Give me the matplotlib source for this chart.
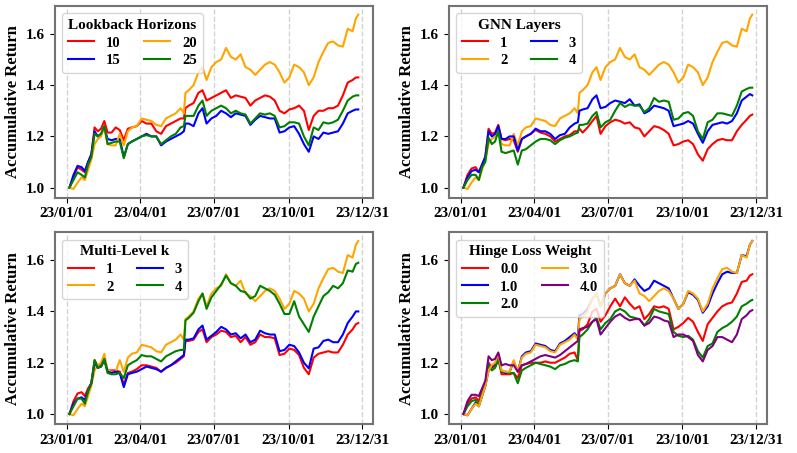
import matplotlib
matplotlib.use('Agg')
import matplotlib.pyplot as plt
import matplotlib.dates as mdates
import numpy as np
import pandas as pd

plt.rcParams['font.family'] = 'serif'
plt.rcParams['font.serif'] = ['Liberation Serif', 'DejaVu Serif']
plt.rcParams['font.weight'] = 'bold'
plt.rcParams['axes.labelweight'] = 'bold'

# sample days (offset from 2023-01-01)
days = [3, 8, 13, 18, 22, 26, 30, 34, 38, 42,
        46, 50, 55, 60, 65, 70, 75, 80, 86, 92,
        98, 104, 110, 116, 122, 128, 134, 140, 144, 146,
        150, 156, 162, 167, 172, 178, 184, 190, 196, 202,
        208, 214, 220, 226, 232, 238, 244, 250, 256, 262,
        268, 274, 280, 286, 292, 298, 304, 310, 316, 322,
        328, 334, 340, 346, 352, 356, 359]

# default model (orange, same in all panels)
best = [1.00, 0.995, 1.02, 1.04, 1.03, 1.07, 1.11, 1.17, 1.19, 1.20,
        1.235, 1.17, 1.165, 1.165, 1.21, 1.165, 1.22, 1.235, 1.24, 1.27,
        1.265, 1.26, 1.245, 1.24, 1.27, 1.28, 1.29, 1.31, 1.29, 1.37,
        1.38, 1.40, 1.45, 1.47, 1.42, 1.47, 1.49, 1.50, 1.545, 1.51,
        1.50, 1.52, 1.47, 1.46, 1.44, 1.46, 1.48, 1.49, 1.48, 1.45,
        1.41, 1.43, 1.48, 1.47, 1.45, 1.40, 1.43, 1.49, 1.53, 1.565,
        1.57, 1.555, 1.55, 1.62, 1.61, 1.66, 1.675]

# Lookback Horizons
lb10 = [1.00, 1.04, 1.08, 1.07, 1.06, 1.10, 1.13, 1.235, 1.22, 1.23,
        1.26, 1.215, 1.215, 1.235, 1.225, 1.185, 1.23, 1.235, 1.24, 1.26,
        1.25, 1.25, 1.22, 1.21, 1.24, 1.25, 1.26, 1.27, 1.27, 1.31,
        1.32, 1.33, 1.37, 1.38, 1.34, 1.35, 1.36, 1.37, 1.38, 1.35,
        1.36, 1.355, 1.35, 1.32, 1.34, 1.35, 1.36, 1.355, 1.34, 1.30,
        1.29, 1.305, 1.31, 1.32, 1.30, 1.225, 1.28, 1.30, 1.30, 1.31,
        1.31, 1.32, 1.36, 1.41, 1.42, 1.43, 1.43]
lb15 = [1.00, 1.05, 1.085, 1.08, 1.065, 1.10, 1.13, 1.22, 1.20, 1.21,
        1.235, 1.19, 1.185, 1.19, 1.19, 1.12, 1.17, 1.18, 1.19, 1.20,
        1.21, 1.20, 1.20, 1.165, 1.18, 1.19, 1.20, 1.21, 1.22, 1.25,
        1.25, 1.24, 1.29, 1.31, 1.25, 1.27, 1.28, 1.30, 1.29, 1.275,
        1.29, 1.285, 1.28, 1.245, 1.265, 1.28, 1.275, 1.27, 1.27, 1.215,
        1.22, 1.235, 1.24, 1.21, 1.17, 1.14, 1.20, 1.19, 1.215, 1.21,
        1.215, 1.22, 1.25, 1.29, 1.30, 1.305, 1.305]
lb25 = [1.00, 1.03, 1.06, 1.05, 1.04, 1.09, 1.12, 1.21, 1.20, 1.21,
        1.24, 1.17, 1.175, 1.18, 1.18, 1.115, 1.17, 1.18, 1.19, 1.20,
        1.205, 1.20, 1.20, 1.17, 1.185, 1.20, 1.21, 1.235, 1.24, 1.28,
        1.28, 1.28, 1.32, 1.34, 1.28, 1.30, 1.31, 1.32, 1.31, 1.29,
        1.30, 1.29, 1.285, 1.25, 1.27, 1.29, 1.285, 1.29, 1.28, 1.235,
        1.24, 1.255, 1.255, 1.25, 1.20, 1.165, 1.235, 1.225, 1.255, 1.25,
        1.255, 1.265, 1.30, 1.34, 1.355, 1.36, 1.36]

# GNN Layers
gnn1 = [1.00, 1.05, 1.075, 1.08, 1.06, 1.09, 1.12, 1.23, 1.21, 1.215,
        1.245, 1.19, 1.185, 1.19, 1.185, 1.14, 1.19, 1.20, 1.21, 1.225,
        1.215, 1.21, 1.20, 1.18, 1.19, 1.20, 1.205, 1.22, 1.22, 1.23,
        1.215, 1.235, 1.26, 1.28, 1.21, 1.24, 1.255, 1.265, 1.26, 1.25,
        1.255, 1.235, 1.23, 1.20, 1.22, 1.24, 1.235, 1.225, 1.21, 1.165,
        1.17, 1.18, 1.185, 1.17, 1.13, 1.105, 1.15, 1.17, 1.185, 1.19,
        1.185, 1.185, 1.22, 1.245, 1.265, 1.28, 1.285]
gnn3 = [1.00, 1.04, 1.065, 1.07, 1.06, 1.09, 1.12, 1.22, 1.20, 1.21,
        1.24, 1.19, 1.19, 1.20, 1.20, 1.145, 1.19, 1.20, 1.21, 1.23,
        1.22, 1.22, 1.21, 1.19, 1.205, 1.21, 1.235, 1.25, 1.255, 1.30,
        1.305, 1.31, 1.345, 1.36, 1.31, 1.315, 1.33, 1.34, 1.335, 1.33,
        1.345, 1.32, 1.325, 1.29, 1.30, 1.32, 1.315, 1.31, 1.30, 1.24,
        1.245, 1.25, 1.26, 1.25, 1.21, 1.175, 1.22, 1.245, 1.25, 1.255,
        1.25, 1.26, 1.29, 1.34, 1.355, 1.365, 1.36]
gnn4 = [1.00, 1.03, 1.05, 1.05, 1.03, 1.08, 1.10, 1.195, 1.17, 1.18,
        1.22, 1.14, 1.135, 1.14, 1.145, 1.09, 1.145, 1.15, 1.165, 1.18,
        1.19, 1.19, 1.185, 1.17, 1.185, 1.195, 1.20, 1.21, 1.215, 1.245,
        1.245, 1.25, 1.28, 1.295, 1.235, 1.255, 1.265, 1.30, 1.33, 1.315,
        1.325, 1.32, 1.32, 1.295, 1.31, 1.35, 1.335, 1.34, 1.335, 1.265,
        1.27, 1.29, 1.295, 1.28, 1.22, 1.19, 1.255, 1.265, 1.29, 1.29,
        1.285, 1.28, 1.32, 1.375, 1.385, 1.39, 1.39]

# Multi-Level k
mk1 = [1.00, 1.05, 1.08, 1.085, 1.07, 1.10, 1.12, 1.21, 1.185, 1.19,
       1.22, 1.17, 1.17, 1.17, 1.165, 1.115, 1.16, 1.165, 1.175, 1.19,
       1.19, 1.185, 1.18, 1.165, 1.18, 1.19, 1.20, 1.215, 1.225, 1.285,
       1.285, 1.29, 1.32, 1.33, 1.28, 1.30, 1.31, 1.325, 1.32, 1.30,
       1.305, 1.28, 1.30, 1.27, 1.28, 1.31, 1.30, 1.30, 1.295, 1.23,
       1.235, 1.255, 1.25, 1.23, 1.18, 1.155, 1.22, 1.235, 1.24, 1.245,
       1.24, 1.24, 1.27, 1.31, 1.33, 1.35, 1.355]
mk3 = [1.00, 1.04, 1.06, 1.065, 1.055, 1.09, 1.12, 1.20, 1.18, 1.185,
       1.21, 1.165, 1.16, 1.165, 1.16, 1.105, 1.155, 1.16, 1.165, 1.175,
       1.185, 1.18, 1.175, 1.165, 1.18, 1.19, 1.205, 1.22, 1.23, 1.29,
       1.29, 1.295, 1.33, 1.345, 1.29, 1.305, 1.32, 1.34, 1.33, 1.31,
       1.315, 1.295, 1.31, 1.28, 1.29, 1.325, 1.315, 1.31, 1.31, 1.245,
       1.25, 1.27, 1.265, 1.24, 1.20, 1.178, 1.255, 1.26, 1.285, 1.29,
       1.28, 1.28, 1.31, 1.355, 1.38, 1.40, 1.40]
mk4 = [1.00, 1.03, 1.06, 1.06, 1.04, 1.09, 1.12, 1.21, 1.18, 1.185,
       1.215, 1.16, 1.155, 1.155, 1.16, 1.14, 1.19, 1.20, 1.21, 1.23,
       1.225, 1.225, 1.215, 1.205, 1.225, 1.235, 1.245, 1.25, 1.25, 1.365,
       1.375, 1.395, 1.44, 1.47, 1.41, 1.455, 1.48, 1.505, 1.54, 1.51,
       1.50, 1.48, 1.475, 1.45, 1.46, 1.50, 1.49, 1.48, 1.465, 1.43,
       1.39, 1.39, 1.44, 1.38, 1.35, 1.32, 1.38, 1.42, 1.46, 1.475,
       1.50, 1.49, 1.51, 1.56, 1.555, 1.585, 1.59]

# Hinge Loss Weight
hw0 = [1.00, 1.04, 1.06, 1.065, 1.05, 1.09, 1.12, 1.20, 1.18, 1.19,
       1.22, 1.155, 1.155, 1.155, 1.16, 1.14, 1.19, 1.195, 1.20, 1.20,
       1.20, 1.205, 1.20, 1.20, 1.21, 1.22, 1.235, 1.24, 1.21, 1.325,
       1.33, 1.35, 1.40, 1.41, 1.36, 1.385, 1.42, 1.45, 1.42, 1.455,
       1.43, 1.41, 1.42, 1.37, 1.39, 1.42, 1.415, 1.42, 1.41, 1.33,
       1.34, 1.355, 1.375, 1.36, 1.32, 1.285, 1.35, 1.375, 1.40, 1.42,
       1.43, 1.435, 1.47, 1.515, 1.52, 1.54, 1.545]
hw1 = [1.00, 0.995, 1.02, 1.045, 1.03, 1.07, 1.11, 1.17, 1.185, 1.195,
       1.23, 1.165, 1.16, 1.165, 1.205, 1.165, 1.225, 1.24, 1.245, 1.275,
       1.27, 1.265, 1.25, 1.245, 1.275, 1.285, 1.30, 1.315, 1.30, 1.385,
       1.39, 1.41, 1.45, 1.47, 1.42, 1.47, 1.49, 1.50, 1.545, 1.51,
       1.50, 1.525, 1.50, 1.48, 1.49, 1.52, 1.51, 1.50, 1.49, 1.45,
       1.41, 1.43, 1.475, 1.465, 1.445, 1.395, 1.42, 1.47, 1.51, 1.545,
       1.555, 1.55, 1.55, 1.62, 1.615, 1.66, 1.675]
hw2 = [1.00, 1.03, 1.05, 1.055, 1.035, 1.08, 1.11, 1.195, 1.17, 1.18,
       1.21, 1.165, 1.165, 1.16, 1.16, 1.12, 1.17, 1.18, 1.19, 1.20,
       1.195, 1.19, 1.185, 1.175, 1.19, 1.195, 1.205, 1.21, 1.205, 1.30,
       1.31, 1.33, 1.36, 1.375, 1.33, 1.355, 1.37, 1.40, 1.41, 1.40,
       1.38, 1.375, 1.37, 1.345, 1.37, 1.41, 1.40, 1.395, 1.39, 1.32,
       1.305, 1.30, 1.305, 1.29, 1.245, 1.22, 1.265, 1.275, 1.32, 1.335,
       1.345, 1.36, 1.38, 1.42, 1.43, 1.44, 1.445]
hw4 = [1.00, 1.05, 1.075, 1.075, 1.07, 1.10, 1.13, 1.225, 1.21, 1.215,
       1.24, 1.19, 1.195, 1.19, 1.19, 1.165, 1.19, 1.195, 1.205, 1.215,
       1.225, 1.23, 1.225, 1.22, 1.23, 1.245, 1.26, 1.275, 1.285, 1.33,
       1.335, 1.34, 1.36, 1.37, 1.31, 1.335, 1.36, 1.38, 1.39, 1.375,
       1.365, 1.37, 1.37, 1.345, 1.355, 1.38, 1.375, 1.365, 1.36, 1.30,
       1.31, 1.31, 1.30, 1.285, 1.23, 1.205, 1.25, 1.265, 1.30, 1.30,
       1.29, 1.28, 1.31, 1.37, 1.385, 1.40, 1.405]

dates = pd.Timestamp('2023-01-01') + pd.to_timedelta(days, unit='D')

panels = [
    ('Lookback Horizons', [('10', lb10, 'red'), ('15', lb15, 'blue'),
                           ('20', best, 'orange'), ('25', lb25, 'green')]),
    ('GNN Layers', [('1', gnn1, 'red'), ('2', best, 'orange'),
                    ('3', gnn3, 'blue'), ('4', gnn4, 'green')]),
    ('Multi-Level k', [('1', mk1, 'red'), ('2', best, 'orange'),
                       ('3', mk3, 'blue'), ('4', mk4, 'green')]),
    ('Hinge Loss Weight', [('0.0', hw0, 'red'), ('1.0', hw1, 'blue'),
                           ('2.0', hw2, 'green'), ('3.0', best, 'orange'),
                           ('4.0', hw4, 'purple')]),
]

tick_dates = pd.to_datetime(['2023-01-01', '2023-04-01', '2023-07-01',
                             '2023-10-01', '2023-12-31'])

fig, axes = plt.subplots(2, 2, figsize=(7.97, 4.53), dpi=100)
plt.subplots_adjust(left=0.069, right=0.962, top=0.987, bottom=0.064,
                    wspace=0.24, hspace=0.18)

for ax, (title, series) in zip(axes.flat, panels):
    for lab, vals, col in series:
        ax.plot(dates, vals, color=col, lw=1.5, label=lab)
    ax.set_xticks(tick_dates)
    ax.xaxis.set_major_formatter(mdates.DateFormatter('%y/%m/%d'))
    ax.set_yticks([1.0, 1.2, 1.4, 1.6])
    ax.tick_params(labelsize=11)
    ax.grid(axis='x', linestyle='--', color='lightgrey', lw=1)
    ax.set_ylabel('Accumulative Return', fontsize=12)
    for s in ax.spines.values():
        s.set_color('0.45')
        s.set_linewidth(1.5)
    ax.legend(title=title, ncol=2, loc='upper left', fontsize=10.5,
              title_fontproperties={'weight': 'bold', 'size': 11},
              handlelength=1.8, columnspacing=1.6, borderpad=0.4,
              labelspacing=0.3, handletextpad=0.8)

plt.savefig('out.png', dpi=100)
